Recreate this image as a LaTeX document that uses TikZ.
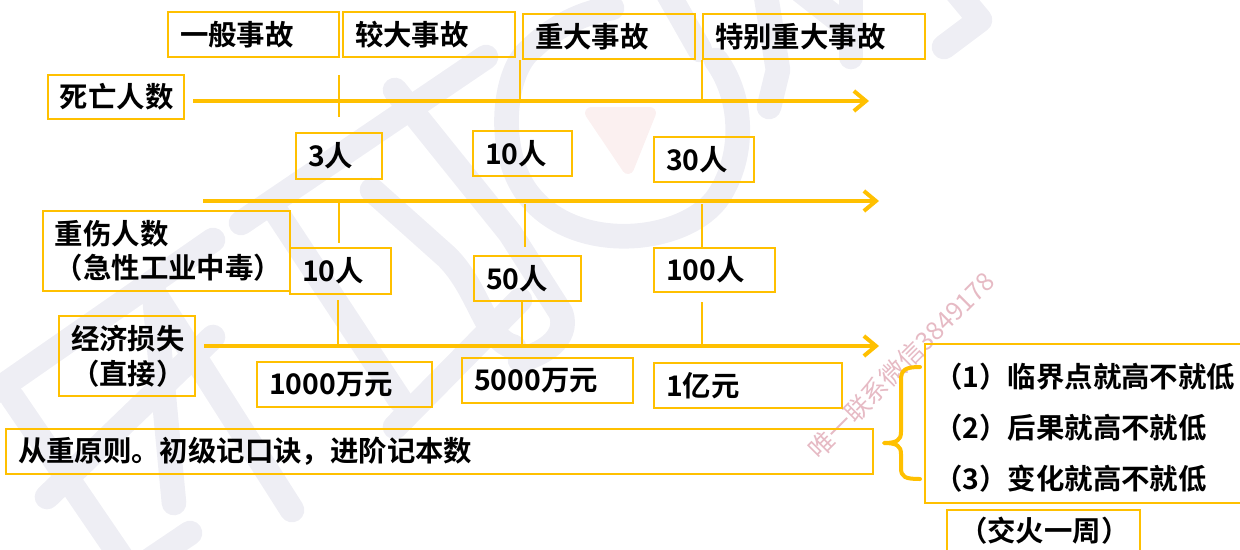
\documentclass[tikz,border=0pt]{standalone}
\usepackage{fontspec}
\setmainfont{Noto Sans CJK SC}[BoldFont={Noto Sans CJK SC Bold}]
\newfontfamily\cjkbold{Noto Sans CJK SC Bold}
\usetikzlibrary{arrows.meta}
\definecolor{gold}{HTML}{FFC000}
\definecolor{wmark}{HTML}{EEEEF4}
\definecolor{wheart}{HTML}{FBF0F0}
\definecolor{wtext}{HTML}{E6BAC4}
\tikzset{
  axisline/.style={draw=gold,line width=3pt,-{Straight Barb[length=9pt,width=15pt,line width=3pt]}},
  ticked/.style={draw=gold,line width=1.5pt},
  wstroke/.style={draw=wmark,line width=18.5pt,line cap=round,line join=round},
  labelfont/.style={font=\cjkbold\fontsize{21.3}{26}\selectfont},
  labelbox/.style={labelfont,draw=gold,line width=1.5pt,inner xsep=9pt,inner ysep=0pt},
  curly/.style={draw=gold,line width=3pt,line cap=round,line join=round}
}
\newcommand{\boxn}[7]{%
  \pgfmathsetmacro{\bw}{(#4-#2)*0.75-18}%
  \pgfmathsetmacro{\bh}{(#5-#3)*0.75}%
  \node[labelbox,text width=\bw pt,minimum height=\bh pt,align=#6] (#1) at ({(#2+#4)/2},{(#3+#5)/2}) {#7};%
}
\begin{document}
\begin{tikzpicture}[x=0.75pt,y=-0.75pt]
\clip (0,0) rectangle (1240,550);
% watermark
\draw[wstroke] (486,57) -- (241,223);
\draw[wstroke] (213,240) -- (-10,395);
\draw[wstroke] (12,397) -- (130,570);
\draw[wstroke] (47,497) -- (213,337);
\draw[wstroke] (190,533) -- (150,560);
\draw[wstroke] (154,293) -- (292,510);
\draw[wstroke] (154,293) -- (174,503);
\draw[wstroke] (277,213) -- (400,400);
\draw[wstroke] (395,90) -- (510,233) -- (561,313) .. controls (570,340) and (540,355) .. (520,360);
\draw[wstroke] (372,190) -- (447,257) .. controls (480,290) and (485,340) .. (514,347);
\draw[wstroke] (395,427) -- (520,300);
\draw[wstroke] (716,60) .. controls (745,100) and (745,160) .. (716,200) .. controls (680,245) and (570,255) .. (525,190) .. controls (495,145) and (505,70) .. (530,50) .. controls (555,25) and (585,12) .. (612,8);
\filldraw[fill=wheart,draw=wheart,line width=9pt,line join=round] (591,113) -- (650,113) -- (628,168) -- cycle;
\draw[wstroke] (769,107) -- (778,70) -- (765,-10);
\draw[wstroke] (666,-10) -- (700,50);
\draw[wstroke] (851,57) -- (851,-10);
\draw[wstroke] (800,-10) -- (851,30);
\draw[wstroke] (944,47) -- (980,20) -- (955,-10);
\node[rotate=45,text=wtext,font=\fontsize{19}{19}\selectfont,inner sep=0pt] (wm) at (901,365) {唯一联系微信3849178};
% boxes
\boxn{n1}{168}{12}{339}{57}{left}{一般事故}
\boxn{n2}{343}{12}{515}{57}{left}{较大事故}
\boxn{n3}{523}{14}{695}{59}{left}{重大事故}
\boxn{n4}{703}{14}{925}{59}{left}{特别重大事故}
\boxn{d0}{48}{75}{184}{119}{left}{死亡人数}
\boxn{d1}{296}{133}{382}{179}{left}{3人}
\boxn{d2}{473}{131}{572}{176}{left}{10人}
\boxn{d3}{654}{137}{754}{182}{left}{30人}
\boxn{i0}{43}{211}{290}{291}{left}{重伤人数\\（急性工业中毒）}
\boxn{i1}{290}{248}{391}{294}{left}{10人}
\boxn{i2}{474}{256}{581}{301}{left}{50人}
\boxn{i3}{654}{248}{775}{292}{left}{100人}
\boxn{e0}{59}{316}{195}{396}{center}{经济损失\\（直接）}
\boxn{e1}{257}{362}{432}{407}{left}{1000万元}
\boxn{e2}{462}{358}{633}{403}{left}{5000万元}
\boxn{e3}{654}{363}{842}{408}{left}{1亿元}
\boxn{rule}{6}{429}{873}{474}{left}{从重原则。初级记口诀，进阶记本数}
\boxn{crit}{925}{344}{1262}{503}{left}{}
\node[labelfont,anchor=west,inner sep=0pt] (l1) at (934,377) {（1）临界点就高不就低};
\node[labelfont,anchor=west,inner sep=0pt] (l2) at (934,428) {（2）后果就高不就低};
\node[labelfont,anchor=west,inner sep=0pt] (l3) at (934,479) {（3）变化就高不就低};
\boxn{fire}{947}{510}{1140}{560}{center}{\raisebox{9pt}{（交火一周）}}
% axes
\coordinate (a1s) at (193,101); \coordinate (a1e) at (869,101);
\coordinate (a2s) at (203,201); \coordinate (a2e) at (879,201);
\coordinate (a3s) at (204,346); \coordinate (a3e) at (879,346);
\draw[axisline] (a1s) -- (a1e);
\draw[axisline] (a2s) -- (a2e);
\draw[axisline] (a3s) -- (a3e);
% ticks
\coordinate (t1a) at (339,75); \coordinate (t1b) at (339,117);
\coordinate (t2a) at (520,60); \coordinate (t2b) at (520,101);
\coordinate (t3a) at (702,60); \coordinate (t3b) at (702,101);
\coordinate (t4a) at (339,201); \coordinate (t4b) at (339,243);
\coordinate (t5a) at (525,204); \coordinate (t5b) at (525,247);
\coordinate (t6a) at (702,204); \coordinate (t6b) at (702,247);
\coordinate (t7a) at (338,300); \coordinate (t7b) at (338,346);
\coordinate (t8a) at (522,302); \coordinate (t8b) at (522,346);
\coordinate (t9a) at (702,302); \coordinate (t9b) at (702,346);
\foreach \k in {1,...,9} {\draw[ticked] (t\k a) -- (t\k b);}
% brace
\coordinate (bt) at (920,367); \coordinate (bm) at (884,443); \coordinate (bb) at (920,479);
\draw[curly] (bt) .. controls (905,367) and (901,370) .. (901,380) -- (901,432) .. controls (901,440) and (897,443) .. (bm) .. controls (897,443) and (901,446) .. (901,454) -- (901,468) .. controls (901,477) and (905,479) .. (bb);
\end{tikzpicture}
\end{document}
